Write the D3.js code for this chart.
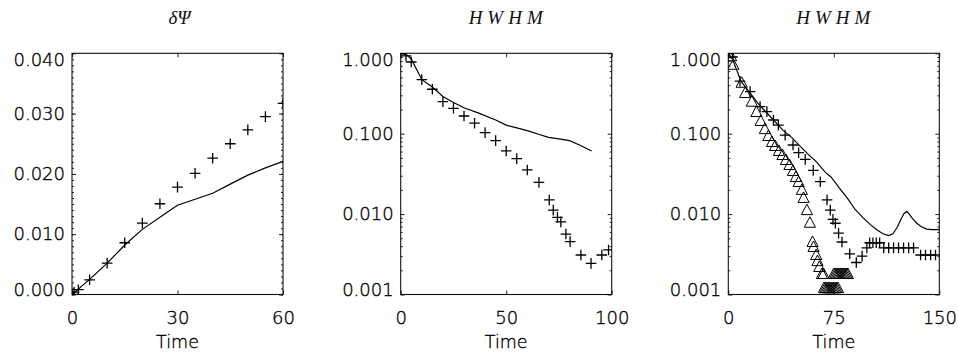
<!DOCTYPE html>
<html lang="en">
<head>
<meta charset="UTF-8">
<title>delta Psi and HWHM vs Time</title>
<script src="https://d3js.org/d3.v7.min.js"></script>
<style>
  body { margin: 0; background: #fff; }
  text { font-family: "DejaVu Sans", sans-serif; font-weight: 200; fill: #000; stroke: #000; stroke-width: 0.35px; }
  .title { font-family: "Liberation Serif", serif; font-style: italic; font-weight: normal; fill: #111; stroke: none; }
</style>
</head>
<body>
<script>
// panel 1 : delta Psi (linear)
const psiPlus = [[0,0],[0.6,0.0004],[1.8,0.0008],[5,0.00244],[10,0.0052],[15,0.00858],[20,0.01183],
  [25,0.01505],[30,0.0178],[35,0.0201],[40,0.0226],[45,0.025],[50,0.0273],[55,0.0295],[60,0.0317]];
const psiLine = [[0,0],[5,0.0025],[10,0.0052],[15,0.0082],[20,0.0108],[25,0.0128],[30,0.0148],
  [35,0.0158],[40,0.0168],[45,0.0183],[50,0.0198],[55,0.021],[60,0.0221]];

// panel 2 : HWHM (log)
const hw2Plus = [[0,1.0],[2.5,0.93],[5,0.78],[10,0.47],[15,0.357],[20,0.25],[25,0.207],[30,0.166],
  [35,0.135],[40,0.103],[45,0.082],[50,0.061],[55,0.049],[60,0.0354],[65.5,0.0248],[70.4,0.015],
  [72.3,0.0112],[74.3,0.0091],[75.9,0.008],[78.3,0.00565],[80.3,0.00454],[85.4,0.0031],
  [90.2,0.00244],[95.3,0.0031],[98.5,0.00358]];
const hw2Line = [[0,1.0],[3,0.95],[5,0.85],[10,0.47],[15,0.38],[20,0.29],[25,0.245],[30,0.21],
  [37,0.18],[45,0.148],[50,0.128],[55,0.118],[60,0.109],[65,0.099],[70,0.09],[75,0.086],
  [80,0.082],[85,0.072],[90.5,0.061]];

// panel 3 : HWHM (log), three runs
const hw3Plus = [[0,1.0],[3,0.9],[8.3,0.45],[15.5,0.334],[22.6,0.217],[27.4,0.188],[32.1,0.148],
  [35.6,0.128],[40.4,0.096],[46,0.0724],[50,0.058],[54.7,0.048],[60.4,0.035],[65.4,0.0253],
  [70.2,0.015],[72.5,0.0112],[74.4,0.0086],[76.1,0.0077],[78.4,0.0058],[80.8,0.0045],
  [86.3,0.0032],[91,0.0025],[95.1,0.003],[98.5,0.0038],[100.5,0.0044],[102.8,0.0044],
  [105.2,0.0044],[107.6,0.0044],[110.5,0.0038],[114,0.0038],[117.5,0.0038],[121,0.0038],
  [124.6,0.0038],[128.2,0.0038],[131.7,0.0038],[136.7,0.0031],[140.2,0.0031],[143.8,0.0031],
  [147.3,0.0031]];
const hw3Tri = [[0,1.0],[2,0.92],[3.6,0.72],[9.5,0.43],[12,0.321],[16.7,0.25],[20,0.186],
  [23,0.144],[26,0.114],[28.5,0.0936],[31,0.0788],[33.3,0.0703],[36,0.061],[38.5,0.0543],
  [41,0.0471],[43.5,0.0408],[46,0.0344],[48,0.0289],[50,0.0251],[52.3,0.02],[53.5,0.0159],
  [55.9,0.0112],[58,0.0078],[59.9,0.0045],[60.6,0.0039],[62.5,0.0031],[63.4,0.0026],
  [64.7,0.0022],[66.6,0.0018],[67.7,0.0018],
  [75,0.0018],[76,0.0018],[77,0.0018],[78,0.0018],[79,0.0018],[80,0.0018],[81,0.0018],
  [82,0.0018],[83,0.0018],[84,0.0018],[85,0.0018],
  [68,0.0012],[69,0.0012],[70,0.0012],[71,0.0012],[72,0.0012],[73,0.0012],[74,0.0012],
  [75,0.0012],[76,0.0012],[77,0.0012],[78,0.0012]];
const hw3Line = [[0,1.0],[3,0.85],[9,0.45],[15,0.33],[21,0.24],[27,0.185],[33,0.142],[39,0.11],
  [45,0.09],[51,0.07],[57,0.055],[63,0.044],[69,0.033],[73,0.029],[79,0.021],[85,0.0155],
  [90,0.0115],[96,0.0089],[101,0.0074],[106,0.0063],[110,0.0057],[114,0.0054],[117,0.0057],
  [120,0.0068],[123,0.0088],[125,0.0102],[127,0.0108],[129,0.0098],[131,0.0088],[134,0.0077],
  [137,0.007],[141,0.0065],[145,0.0064],[150,0.0064]];

const psiTicks = [0, 0.01, 0.02, 0.03, 0.04];
const psiMinor = d3.range(0, 41).map(i => i / 1000);
const logTicks = [0.001, 0.01, 0.1, 1];
const logMinor = [0.001, 0.01, 0.1].flatMap(d => [2,3,4,5,6,7,8,9].map(k => k * d));

const panels = [
  { title: "δΨ", left: 72, xmax: 60, xticks: [0, 30, 60], log: false,
    plus: psiPlus, tri: [], line: psiLine },
  { title: "HWHM", left: 400.7, xmax: 100, xticks: [0, 50, 100], log: true,
    plus: hw2Plus, tri: [], line: hw2Line },
  { title: "HWHM", left: 728.3, xmax: 150, xticks: [0, 75, 150], log: true,
    plus: hw3Plus, tri: hw3Tri, line: hw3Line }
];

const width = 958, height = 356;
const plotTop = 53.3, plotH = 241.2, plotW = 211;

const svg = d3.select("body").append("svg")
  .attr("width", width).attr("height", height);

panels.forEach((p, i) => {
  const x = d3.scaleLinear().domain([0, p.xmax]).range([p.left, p.left + plotW]);
  const y = p.log
    ? d3.scaleLog().domain([0.001, 1]).range([plotTop + plotH, plotTop])
    : d3.scaleLinear().domain([0, 0.04]).range([plotTop + plotH, plotTop]);
  const majors = p.log ? logTicks : psiTicks;
  const minors = p.log ? logMinor : psiMinor;
  const fmt = d3.format(".3f");

  const g = svg.append("g");

  g.append("clipPath").attr("id", "clip" + i)
    .append("rect").attr("x", p.left).attr("y", plotTop).attr("width", plotW).attr("height", plotH);

  // left axis, ticks pointing inward
  const yl = g.append("g").attr("transform", `translate(${p.left},0)`);
  yl.call(d3.axisLeft(y).tickValues(minors).tickSize(-2).tickFormat(""));
  yl.append("g").call(d3.axisLeft(y).tickValues(majors).tickSize(-4).tickPadding(7).tickFormat(fmt));
  yl.selectAll("text")
    .style("font-size", "18px").attr("fill", "#000")
    .attr("y", d => y(d) <= plotTop + 1 ? 6 : (y(d) >= plotTop + plotH - 1 ? -4.5 : 0));

  const yr = g.append("g").attr("transform", `translate(${p.left + plotW},0)`);
  yr.call(d3.axisRight(y).tickValues(minors).tickSize(-2).tickFormat(""));
  yr.append("g").call(d3.axisRight(y).tickValues(majors).tickSize(-4).tickFormat(""));

  const xb = g.append("g").attr("transform", `translate(0,${plotTop + plotH})`);
  xb.call(d3.axisBottom(x).tickValues(p.xticks).tickSize(-4).tickPadding(17).tickFormat(d3.format("d")));
  xb.selectAll("text").style("font-size", "18px").attr("fill", "#000");

  const xt = g.append("g").attr("transform", `translate(0,${plotTop})`);
  xt.call(d3.axisTop(x).tickValues(p.xticks).tickSize(-4).tickFormat(""));

  g.selectAll(".domain").remove();
  g.selectAll(".tick line").attr("stroke", "#222");

  g.append("rect")
    .attr("x", p.left).attr("y", plotTop).attr("width", plotW).attr("height", plotH)
    .attr("fill", "none").attr("stroke", "#111").attr("stroke-width", 1.1);

  const data = g.append("g").attr("clip-path", `url(#clip${i})`);

  data.append("path")
    .datum(p.line)
    .attr("fill", "none").attr("stroke", "#000").attr("stroke-width", 1.2)
    .attr("d", d3.line().x(d => x(d[0])).y(d => y(d[1])));

  data.selectAll(".plus").data(p.plus).enter().append("path")
    .attr("class", "plus")
    .attr("transform", d => `translate(${x(d[0])},${y(d[1])})`)
    .attr("d", "M-5.3,0H5.3M0,-5.3V5.3")
    .attr("stroke", "#000").attr("stroke-width", 1.3).attr("fill", "none");

  data.selectAll(".tri").data(p.tri).enter().append("path")
    .attr("class", "tri")
    .attr("transform", d => `translate(${x(d[0])},${y(d[1])})`)
    .attr("d", "M0,-6L5.6,4.5H-5.6Z")
    .attr("stroke", "#000").attr("stroke-width", 1).attr("fill", "none");

  // titles and axis label
  g.append("text").attr("class", "title")
    .attr("x", p.left + plotW / 2 + 2).attr("y", 23.5)
    .attr("text-anchor", "middle")
    .style("font-size", "19px")
    .style("letter-spacing", p.log ? "5px" : "0px")
    .text(p.title);

  g.append("text")
    .attr("x", p.left + plotW / 2).attr("y", 347.5)
    .attr("text-anchor", "middle")
    .style("font-size", "17.5px")
    .text("Time");
});
</script>
</body>
</html>
